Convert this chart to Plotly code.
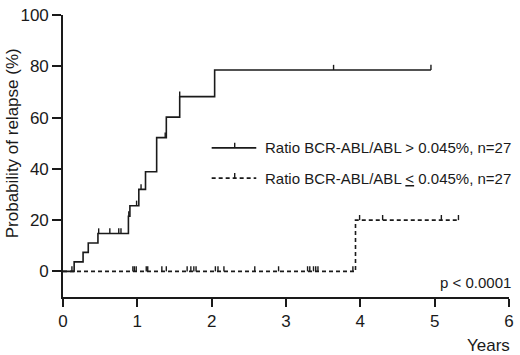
import plotly.graph_objects as go

# ---- data ----
# high group: Ratio BCR-ABL/ABL > 0.045%
high_times = [0, 0.15, 0.27, 0.34, 0.47, 0.88, 0.90, 1.02, 1.11, 1.26, 1.39, 1.57, 2.04, 4.95]
high_values = [0, 3.7, 7.4, 11.1, 14.8, 21.5, 25.6, 32.0, 38.9, 52.2, 60.2, 68.2, 78.6, 78.6]
high_censor = [0.48, 0.63, 0.75, 0.78, 0.885, 0.99, 1.05, 1.375, 1.57, 3.64, 4.95]

# low group: Ratio BCR-ABL/ABL <= 0.045%
low_times = [0, 3.935, 5.32]
low_values = [0, 20.0, 20.0]
low_censor = [0.12, 0.94, 0.96, 0.985, 1.12, 1.14, 1.33, 1.39, 1.67, 1.72, 1.76, 1.79,
              2.05, 2.085, 2.165, 2.58, 2.90, 3.29, 3.32, 3.37, 3.40, 3.43, 3.90,
              3.99, 4.30, 5.09, 5.32]

y_ticks = [0, 20, 40, 60, 80, 100]
x_ticks = [0, 1, 2, 3, 4, 5, 6]

legend_labels = ["Ratio BCR-ABL/ABL > 0.045%, n=27",
                 "Ratio BCR-ABL/ABL <u>&lt;</u> 0.045%, n=27"]


def step_value(times, values, t):
    v = values[0]
    for tt, vv in zip(times, values):
        if tt <= t:
            v = vv
    return v


FONT = "Liberation Sans, Arial, sans-serif"
INK = "#1a1a1a"
TICK_UP = 2.0  # censor tick height in % units

fig = go.Figure()

for times, values, censor, dash in [
    (low_times, low_values, low_censor, "4px,3px"),
    (high_times, high_values, high_censor, "solid"),
]:
    fig.add_trace(go.Scatter(
        x=times, y=values, mode="lines", line_shape="hv",
        line=dict(color=INK, width=1.6, dash=dash),
        hoverinfo="skip", showlegend=False))
    cy = [step_value(times, values, t) for t in censor]
    fig.add_trace(go.Scatter(
        x=censor, y=cy, mode="markers",
        marker=dict(size=1, color=INK, opacity=0),
        error_y=dict(type="data", symmetric=False,
                     array=[TICK_UP] * len(censor),
                     arrayminus=[0] * len(censor),
                     thickness=1.4, width=0, color=INK),
        hoverinfo="skip", showlegend=False))

# manual legend
leg_rows = [(48.2, "solid"), (36.4, "4px,3px")]
for (ly, dash), label in zip(leg_rows, legend_labels):
    fig.add_shape(type="line", x0=2.0, x1=2.6, y0=ly, y1=ly, xref="x", yref="y",
                  line=dict(color=INK, width=1.6, dash=dash))
    fig.add_shape(type="line", x0=2.31, x1=2.31, y0=ly, y1=ly + TICK_UP, xref="x", yref="y",
                  line=dict(color=INK, width=1.4))
    fig.add_annotation(x=2.69, y=ly, xref="x", yref="y", text=label, showarrow=False,
                       xanchor="left", yanchor="middle",
                       font=dict(family=FONT, size=15, color=INK))

fig.add_annotation(x=1, y=-0.0, xref="paper", yref="y", text="p < 0.0001",
                   showarrow=False, xanchor="right", yanchor="top", xshift=4, yshift=-1,
                   font=dict(family=FONT, size=15, color=INK))

fig.add_annotation(x=1, y=0, xref="paper", yref="paper", text="Years",
                   showarrow=False, xanchor="right", yanchor="middle", xshift=3, yshift=-48,
                   font=dict(family=FONT, size=17, color=INK))

fig.add_annotation(x=0, y=50, xref="paper", yref="y", text="Probability of relapse (%)",
                   showarrow=False, textangle=-90, xanchor="center", yanchor="middle",
                   xshift=-51,
                   font=dict(family=FONT, size=17, color=INK))

fig.update_layout(
    width=520, height=355,
    margin=dict(l=63, r=7, t=6, b=58),
    paper_bgcolor="white", plot_bgcolor="white",
    font=dict(family=FONT, size=17, color=INK),
    showlegend=False,
    xaxis=dict(range=[0, 6], tickvals=x_ticks, ticks="outside", ticklen=8,
               tickwidth=1.5, tickcolor=INK, showline=True, linecolor=INK, linewidth=1.6,
               showgrid=False, zeroline=False, tickfont=dict(size=17), fixedrange=True,
               ticklabeloverflow="allow"),
    yaxis=dict(range=[-10, 100.05], tickvals=y_ticks, ticks="outside", ticklen=9,
               tickwidth=1.5, tickcolor=INK, showline=True, linecolor=INK, linewidth=1.6,
               showgrid=False, zeroline=False, tickfont=dict(size=17), fixedrange=True,
               ticklabeloverflow="allow"),
)

fig.write_html("out.html", config={"displayModeBar": False},
               post_script="document.body.style.margin='0';document.body.style.overflow='hidden';")
